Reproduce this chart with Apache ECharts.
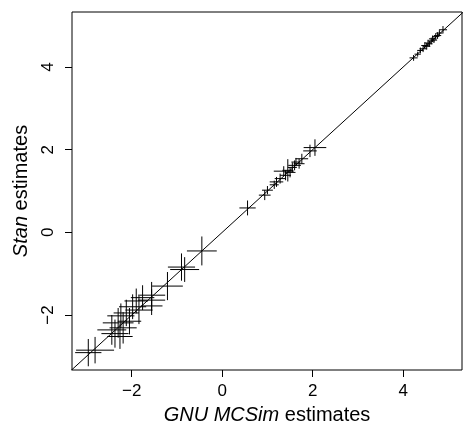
<!DOCTYPE html>
<html>
<head>
<meta charset="utf-8">
<script src="https://cdn.jsdelivr.net/npm/echarts@6/dist/echarts.min.js"></script>
<style>
  html, body { margin: 0; padding: 0; background: #fff; }
  #chart { width: 463px; height: 430px; }
</style>
</head>
<body>
<div id="chart"></div>
<script>
// GNU MCSim estimate (x) vs Stan estimate (y), with half widths of each cross
const mcsimEst = [
  -2.96, -2.81, -2.44, -2.37, -2.30, -2.26, -2.19, -2.24, -2.12, -2.05,
  -1.98, -1.90, -1.84, -1.76, -1.56, -1.56, -1.56, -1.21, -0.90, -0.83, -0.45,
  0.56, 0.94, 1.00, 1.15, 1.20, 1.28, 1.36, 1.40, 1.45, 1.50,
  1.55, 1.60, 1.63, 1.70, 1.76, 1.94, 2.05,
  4.23, 4.32, 4.38, 4.44, 4.48, 4.52, 4.55, 4.58, 4.62, 4.65,
  4.68, 4.72, 4.76, 4.80, 4.88
];
const stanEst = [
  -2.91, -2.85, -2.36, -2.45, -2.19, -2.52, -2.31, -2.02, -1.95, -2.15,
  -1.80, -1.66, -1.88, -1.58, -1.52, -1.64, -1.78, -1.30, -0.84, -0.90, -0.45,
  0.59, 0.90, 1.02, 1.15, 1.22, 1.30, 1.48, 1.38, 1.50, 1.45,
  1.57, 1.62, 1.70, 1.66, 1.78, 1.97, 2.05,
  4.22, 4.31, 4.40, 4.44, 4.52, 4.50, 4.58, 4.56, 4.63, 4.68,
  4.65, 4.74, 4.76, 4.82, 4.90
];
const mcsimErr = [
  0.29, 0.42, 0.32, 0.30, 0.34, 0.28, 0.30, 0.30, 0.28, 0.26,
  0.30, 0.26, 0.30, 0.26, 0.30, 0.30, 0.24, 0.34, 0.30, 0.32, 0.33,
  0.18, 0.13, 0.12, 0.10, 0.15, 0.12, 0.22, 0.12, 0.12, 0.12,
  0.10, 0.14, 0.10, 0.12, 0.14, 0.15, 0.25,
  0.09, 0.07, 0.07, 0.08, 0.08, 0.08, 0.08, 0.07, 0.08, 0.08,
  0.07, 0.08, 0.08, 0.07, 0.09
];
const stanErr = [
  0.33, 0.32, 0.36, 0.34, 0.36, 0.30, 0.38, 0.30, 0.32, 0.32,
  0.30, 0.30, 0.34, 0.30, 0.32, 0.26, 0.22, 0.34, 0.33, 0.30, 0.35,
  0.18, 0.12, 0.10, 0.10, 0.12, 0.12, 0.12, 0.12, 0.27, 0.12,
  0.12, 0.12, 0.10, 0.12, 0.12, 0.15, 0.20,
  0.07, 0.06, 0.07, 0.08, 0.08, 0.08, 0.08, 0.07, 0.08, 0.08,
  0.07, 0.08, 0.08, 0.07, 0.09
];
const tickValues = [-2, 0, 2, 4];

const FONT = "'Liberation Sans', Arial, Helvetica, sans-serif";

const chart = echarts.init(document.getElementById("chart"));

const crossData = mcsimEst.map((x, i) => [x, stanEst[i], mcsimErr[i], stanErr[i]]);

// R style minus sign
const fmt = (v) => (v < 0 ? "\u2212" + Math.abs(v) : String(v));

function renderCross(params, api) {
  const x = api.value(0);
  const y = api.value(1);
  const xe = api.value(2);
  const ye = api.value(3);
  const l = api.coord([x - xe, y]);
  const r = api.coord([x + xe, y]);
  const b = api.coord([x, y - ye]);
  const t = api.coord([x, y + ye]);
  const style = { stroke: "#000", lineWidth: 1 };
  return {
    type: "group",
    children: [
      { type: "line", shape: { x1: l[0], y1: l[1], x2: r[0], y2: r[1] }, style },
      { type: "line", shape: { x1: b[0], y1: b[1], x2: t[0], y2: t[1] }, style },
    ],
  };
}

const titleStyle = {
  color: "#000",
  fontSize: 20,
  fontFamily: FONT,
  rich: {
    i: { fontStyle: "italic", fontSize: 20, fontFamily: FONT, color: "#000" },
  },
};

const option = {
  animation: false,
  backgroundColor: "#fff",
  grid: {
    left: 72,
    right: 1,
    top: 12,
    bottom: 54,
    show: true,
    borderColor: "#000",
    borderWidth: 1,
  },
  xAxis: {
    type: "value",
    min: -3.32,
    max: 5.3,
    axisLine: { show: false, onZero: false },
    splitLine: { show: false },
    axisTick: {
      show: true,
      length: 7,
      customValues: tickValues,
      lineStyle: { color: "#000" },
    },
    axisLabel: {
      customValues: tickValues,
      formatter: fmt,
      margin: 13,
      color: "#000",
      fontSize: 17,
      fontFamily: FONT,
    },
    name: "{i|GNU MCSim} estimates",
    nameLocation: "middle",
    nameGap: 35,
    nameTextStyle: titleStyle,
  },
  yAxis: {
    type: "value",
    min: -3.33,
    max: 5.33,
    axisLine: { show: false, onZero: false },
    splitLine: { show: false },
    axisTick: {
      show: true,
      length: 7,
      customValues: tickValues,
      lineStyle: { color: "#000" },
    },
    axisLabel: {
      customValues: tickValues,
      formatter: fmt,
      rotate: 90,
      margin: 15,
      color: "#000",
      fontSize: 17,
      fontFamily: FONT,
    },
    name: "{i|Stan} estimates",
    nameLocation: "middle",
    nameGap: 41,
    nameTextStyle: titleStyle,
  },
  series: [
    {
      // y = x reference line
      type: "line",
      data: [[-4, -4], [6, 6]],
      showSymbol: false,
      clip: true,
      lineStyle: { color: "#000", width: 1 },
      silent: true,
    },
    {
      type: "custom",
      renderItem: renderCross,
      data: crossData,
      encode: { x: 0, y: 1 },
      clip: true,
    },
  ],
};

chart.setOption(option);
</script>
</body>
</html>
